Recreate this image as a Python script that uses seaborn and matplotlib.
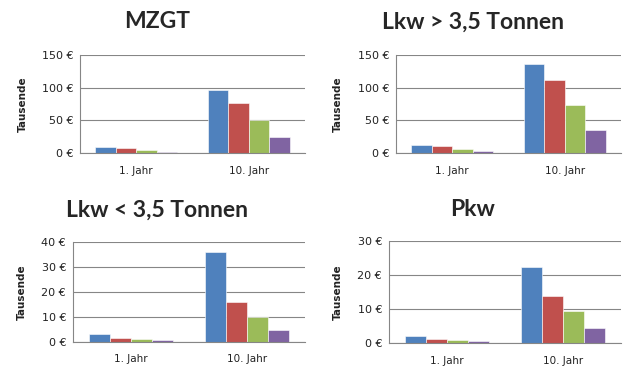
import pandas as pd
import matplotlib.pyplot as plt
import seaborn as sns

# values (thousands of euro)
years = ['1. Jahr', '10. Jahr']
series = ['Reihe 1', 'Reihe 2', 'Reihe 3', 'Reihe 4']
colors = ['#4F81BD', '#C0504D', '#9BBB59', '#8064A2']

mzgt_1 = [9.5, 7.5, 4, 2]
mzgt_10 = [96, 76, 50, 24]
lkw_gross_1 = [11.5, 10, 6.5, 3.5]
lkw_gross_10 = [136, 111, 74, 35.5]
lkw_klein_1 = [3.1, 1.5, 1.1, 0.7]
lkw_klein_10 = [36, 15.9, 10, 5]
pkw_1 = [2.1, 1.3, 1.0, 0.6]
pkw_10 = [22.3, 13.8, 9.3, 4.4]

titles = ['MZGT', 'Lkw > 3,5 Tonnen', 'Lkw < 3,5 Tonnen', 'Pkw']
ymax = [150, 150, 40, 30]
ystep = [50, 50, 10, 10]


def make_df(first, tenth):
    rows = []
    for s, v in zip(series, first):
        rows.append({'Jahr': years[0], 'Reihe': s, 'Wert': v})
    for s, v in zip(series, tenth):
        rows.append({'Jahr': years[1], 'Reihe': s, 'Wert': v})
    return pd.DataFrame(rows)


frames = [make_df(mzgt_1, mzgt_10), make_df(lkw_gross_1, lkw_gross_10),
          make_df(lkw_klein_1, lkw_klein_10), make_df(pkw_1, pkw_10)]

sns.set_theme(style='white')
plt.rcParams['font.family'] = ['DejaVu Sans']

fig = plt.figure(figsize=(6.27, 3.70), dpi=100)

# axes positions in figure pixels: left, right, top, bottom
boxes = [(80, 305, 55, 153), (396, 621, 55, 153),
         (73, 305, 242, 342), (389, 621, 241, 343)]
title_pos = [(157, 22), (473, 22), (157, 210), (473, 210)]
ylab_x = [23, 338, 22, 338]

W, H = 627, 370
for i in range(4):
    l, r, t, b = boxes[i]
    ax = fig.add_axes([l / W, (H - b) / H, (r - l) / W, (b - t) / H])
    sns.barplot(data=frames[i], x='Jahr', y='Wert', hue='Reihe', palette=colors,
                width=0.73, legend=False, ax=ax, saturation=1, edgecolor='white', linewidth=0.4)
    ax.set_ylim(0, ymax[i])
    ticks = list(range(0, ymax[i] + 1, ystep[i]))
    ax.set_yticks(ticks)
    ax.set_yticklabels(['%d €' % v for v in ticks], fontsize=8, color='#222222')
    ax.set_xticks([0, 1])
    ax.set_xticklabels(years, fontsize=7.5, color='#222222')
    ax.set_xlim(-0.5, 1.5)
    ax.set_xlabel('')
    ax.set_ylabel('')
    ax.yaxis.grid(True, color='#868686', linewidth=0.8)
    ax.set_axisbelow(True)
    for side in ['top', 'right']:
        ax.spines[side].set_visible(False)
    for side in ['left', 'bottom']:
        ax.spines[side].set_color('#868686')
        ax.spines[side].set_linewidth(0.8)
    ax.tick_params(axis='y', length=0, pad=5)
    ax.tick_params(axis='x', length=0, pad=9)
    ax.set_facecolor('white')

    fig.text(title_pos[i][0] / W, 1 - title_pos[i][1] / H, titles[i],
             ha='center', va='center', fontsize=16.5, fontweight='bold', family='Lato')
    fig.text(ylab_x[i] / W, 1 - ((t + b) / 2) / H, 'Tausende', rotation=90,
             ha='center', va='center', fontsize=7.5, fontweight='bold', color='#222222')

plt.savefig('out.png', dpi=100)
